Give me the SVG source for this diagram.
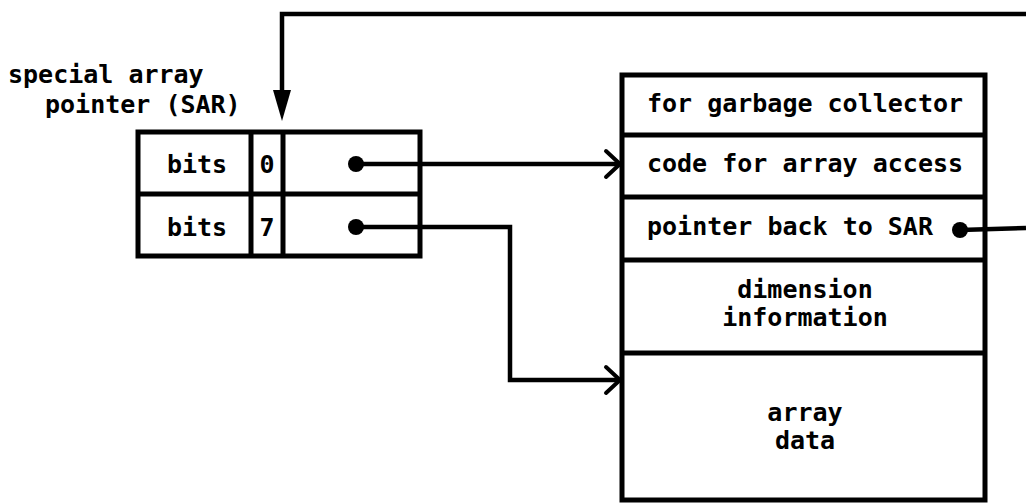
<svg xmlns="http://www.w3.org/2000/svg" width="1026" height="504" viewBox="0 0 1026 504">
<style>
  .t { font-family: "DejaVu Sans Mono", "Liberation Mono", monospace; font-weight: bold; font-size: 25px; fill: #000; }
  .m { text-anchor: middle; }
  .box { fill: none; stroke: #000; stroke-width: 5; }
  .ln { fill: none; stroke: #000; stroke-width: 4.5; stroke-linejoin: miter; }
  .chev { fill: none; stroke: #000; stroke-width: 4; stroke-linecap: round; stroke-linejoin: miter; }
</style>
<rect width="1026" height="504" fill="#fff"/>

<g id="sar-label">
  <text class="t" x="8" y="83">special array</text>
  <text class="t" x="45" y="113">pointer (SAR)</text>
</g>

<g id="sar">
  <rect class="box" x="138" y="132" width="282" height="124"/>
  <line class="box" x1="138" y1="194" x2="420" y2="194"/>
  <line class="box" x1="251" y1="132" x2="251" y2="256"/>
  <line class="box" x1="283" y1="132" x2="283" y2="256"/>
  <text class="t m" x="197" y="173">bits</text>
  <text class="t m" x="267" y="173">0</text>
  <text class="t m" x="197" y="236">bits</text>
  <text class="t m" x="267" y="236">7</text>
</g>

<g id="array-block">
  <rect class="box" x="622" y="75" width="363" height="425"/>
  <line class="box" x1="622" y1="135" x2="985" y2="135"/>
  <line class="box" x1="622" y1="197" x2="985" y2="197"/>
  <line class="box" x1="622" y1="260" x2="985" y2="260"/>
  <line class="box" x1="622" y1="353" x2="985" y2="353"/>
  <text class="t m" x="805" y="112">for garbage collector</text>
  <text class="t m" x="805" y="172">code for array access</text>
  <text class="t m" x="790" y="235">pointer back to SAR</text>
  <text class="t m" x="805" y="298">dimension</text>
  <text class="t m" x="805" y="326">information</text>
  <text class="t m" x="805" y="421">array</text>
  <text class="t m" x="805" y="449">data</text>
</g>

<g id="connectors">
  <circle cx="356" cy="164" r="8"/>
  <line class="ln" x1="356" y1="164" x2="619" y2="164"/>
  <polyline class="chev" points="606,151 620,164 606,177"/>
  <circle cx="356" cy="227" r="8"/>
  <polyline class="ln" points="356,227 510,227 510,380 619,380"/>
  <polyline class="chev" points="606,367 620,380 606,393"/>
  <circle cx="960" cy="230" r="8"/>
  <polyline class="ln" points="960,230 1026,228"/>
  <polyline class="ln" points="1026,14 282,14 282,96"/>
  <polygon points="273,90 291,90 282,121"/>
</g>
</svg>
